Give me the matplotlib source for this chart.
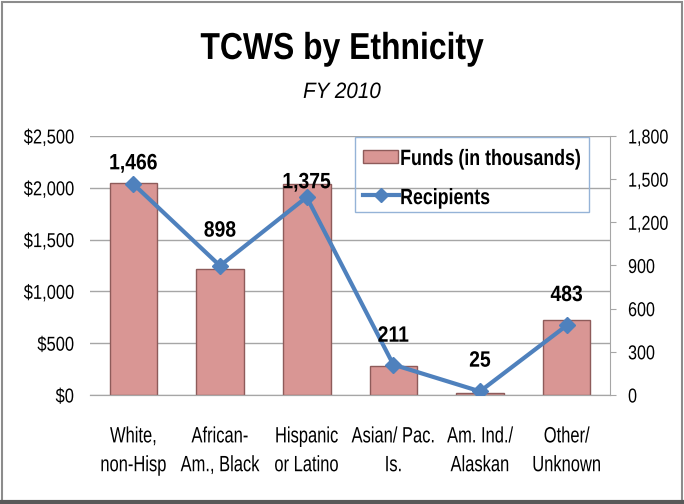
import matplotlib.pyplot as plt
from matplotlib.patches import Rectangle
from matplotlib.lines import Line2D
from matplotlib.patheffects import AbstractPathEffect
from matplotlib.transforms import Affine2D
from matplotlib.ticker import FuncFormatter, MultipleLocator

# --- data ---
categories = [
    "White,\nnon-Hisp",
    "African-\nAm., Black",
    "Hispanic\nor Latino",
    "Asian/ Pac.\nIs.",
    "Am. Ind./\nAlaskan",
    "Other/\nUnknown",
]
funds = [2050, 1215, 2040, 280, 22, 725]  # in thousands of dollars
recipients = [1466, 898, 1375, 211, 25, 483]
legend_labels = ["Funds (in thousands)", "Recipients"]

plt.rcParams["font.family"] = ["Liberation Sans", "DejaVu Sans"]

BAR_COLOR = "#D99694"
BAR_EDGE = "#8E5B5A"
LINE_COLOR = "#4F81BD"
GRID_COLOR = "#A6A6A6"


class Reshape(AbstractPathEffect):
    """Scale glyphs of a text about its baseline, keeping its alignment point."""

    def __init__(self, sx, ha="center", sy=1.0):
        super().__init__()
        self.sx = sx
        self.sy = sy
        self.ha = ha

    def draw_path(self, renderer, gc, tpath, affine, rgbFace=None):
        w = tpath.get_extents().x1
        k = {"left": 0.0, "center": 0.5, "right": 1.0}[self.ha]
        shape = Affine2D().scale(self.sx, self.sy).translate(k * (1 - self.sx) * w, 0)
        renderer.draw_path(gc, tpath, shape + affine, rgbFace)


fig = plt.figure(figsize=(6.84, 5.04), dpi=100)
ax = fig.add_axes([0.1316, 0.2163, 0.7602, 0.5139])
ax2 = ax.twinx()

x = list(range(len(categories)))

# Funds bars on the left axis
ax.bar(x, funds, width=0.55, color=BAR_COLOR, edgecolor=BAR_EDGE,
       linewidth=1.0, zorder=2)
ax.set_ylim(0, 2500)
ax.set_xlim(-0.5, len(categories) - 0.5)
ax.yaxis.set_major_locator(MultipleLocator(500))
ax.yaxis.set_major_formatter(FuncFormatter(lambda v, p: f"${v:,.0f}"))
ax.grid(axis="y", color=GRID_COLOR, linewidth=1.0, zorder=0)
ax.set_axisbelow(True)
ax.set_xticks(x)
ax.set_xticklabels(categories, fontsize=12, linespacing=2.15)
ax.tick_params(axis="x", length=0, pad=25.5)
ax.tick_params(axis="y", length=0, pad=11.5, labelsize=14.5)

# Recipients line on the right axis
ax2.plot(x, recipients, color=LINE_COLOR, linewidth=3, marker="D",
         markersize=8, zorder=3)
ax2.set_ylim(0, 1800)
ax2.yaxis.set_major_locator(MultipleLocator(300))
ax2.yaxis.set_major_formatter(FuncFormatter(lambda v, p: f"{v:,.0f}"))
ax2.tick_params(axis="y", length=4, color=GRID_COLOR, pad=9, labelsize=14.5)

# category names: small font, drawn tall and narrow
for t in ax.get_xticklabels():
    t.set_path_effects([Reshape(0.99, "center", sy=1.33)])
for t in ax.get_yticklabels():
    t.set_path_effects([Reshape(0.82, "right")])
for t in ax2.get_yticklabels():
    t.set_path_effects([Reshape(0.8, "left")])

# value labels above the recipients markers (offsets in points)
label_offsets = [10.6, 21, 6.4, 16.5, 17.8, 17.6]
for xi, r, dy in zip(x, recipients, label_offsets):
    ax2.annotate(f"{r:,}", (xi, r), xytext=(0, dy), textcoords="offset points",
                 ha="center", va="baseline", fontsize=16, fontweight="bold",
                 path_effects=[Reshape(0.87, "center")])

for a in (ax, ax2):
    for side in ("top", "left"):
        a.spines[side].set_visible(False)
    a.spines["bottom"].set_color(GRID_COLOR)
    a.spines["right"].set_color(GRID_COLOR)
ax.spines["right"].set_visible(False)

# legend box drawn by hand in figure coordinates
fig.patches.append(Rectangle((0.519, 0.579), 0.342, 0.149,
                             transform=fig.transFigure, fill=False,
                             edgecolor="#95B3D7", linewidth=1.0))
fig.patches.append(Rectangle((0.5307, 0.6766), 0.0512, 0.0258,
                             transform=fig.transFigure, facecolor=BAR_COLOR,
                             edgecolor=BAR_EDGE, linewidth=1.0))
fig.lines.append(Line2D([0.530, 0.583], [0.613, 0.613],
                        transform=fig.transFigure, color=LINE_COLOR,
                        linewidth=3))
fig.lines.append(Line2D([0.5565], [0.613], transform=fig.transFigure,
                        color=LINE_COLOR, marker="D", markersize=7,
                        linestyle="none"))
for ypos, lab in zip([0.6726, 0.595], legend_labels):
    fig.text(0.585, ypos, lab, ha="left", va="baseline", fontsize=16,
             fontweight="bold", path_effects=[Reshape(0.8, "left")])

fig.text(0.5, 0.883, "TCWS by Ethnicity", ha="center", va="baseline",
         fontsize=27, fontweight="bold", path_effects=[Reshape(0.85, "center")])
fig.text(0.5, 0.8056, "FY 2010", ha="center", va="baseline",
         fontsize=16, style="italic", path_effects=[Reshape(0.93, "center")])

# slide frame
fig.patches.append(Rectangle((0.003, 0.004), 0.994, 0.993,
                             transform=fig.transFigure, fill=False,
                             edgecolor="#8C8C8C", linewidth=1.5))
fig.lines.append(Line2D([0, 1], [0.004, 0.004], transform=fig.transFigure,
                        color="#595959", linewidth=3))

fig.savefig("out.png", dpi=100, facecolor="white")
